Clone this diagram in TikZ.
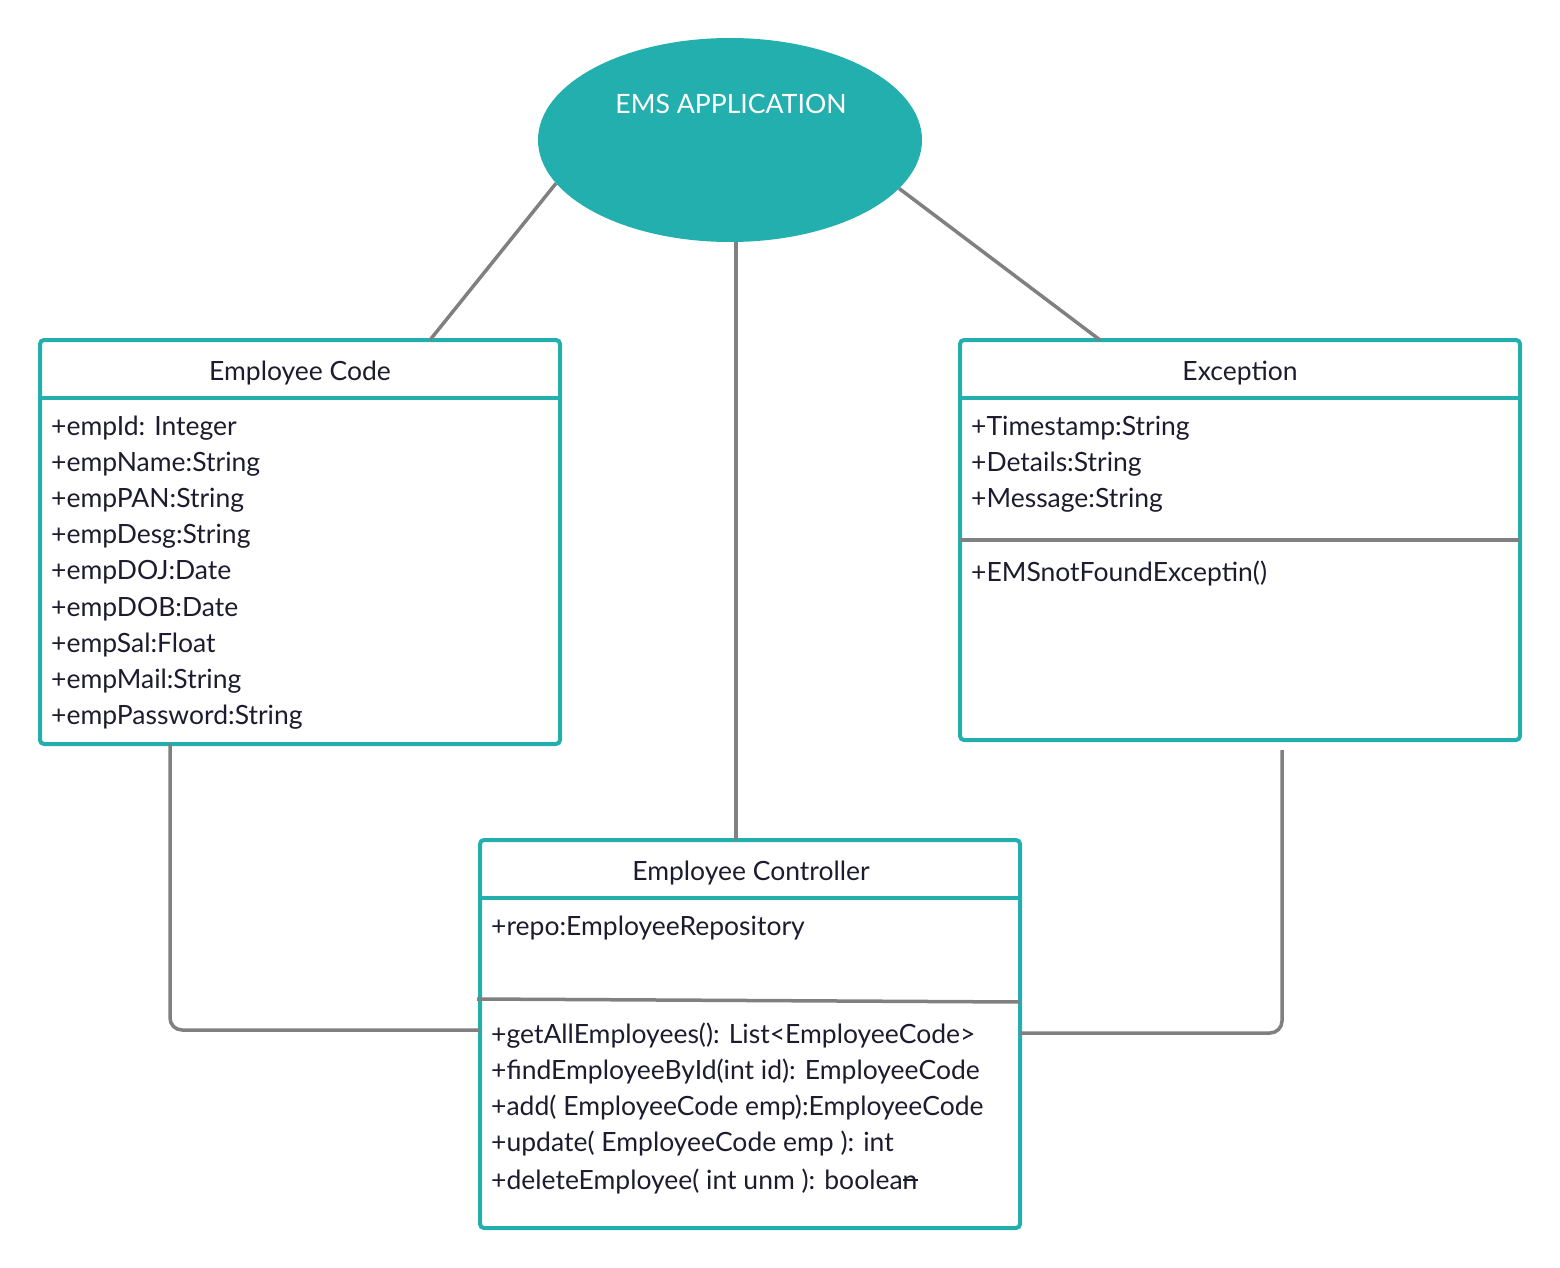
\documentclass[tikz,border=0pt]{standalone}
\usepackage{fontspec}
\setmainfont{Lato}
\usetikzlibrary{shapes.geometric}
\definecolor{emsteal}{HTML}{23AFAE}
\definecolor{linkgray}{HTML}{808080}
\definecolor{ink}{HTML}{1C1C2E}
\tikzset{
  classbox/.style={draw=emsteal, line width=4pt, rounded corners=4pt, anchor=north west, inner sep=0pt, outer sep=0pt},
  headline/.style={draw=emsteal, line width=4pt},
  partline/.style={draw=linkgray, line width=3.5pt},
  conn/.style={draw=linkgray, line width=3.5pt, rounded corners=12pt},
  member/.style={anchor=base west, inner sep=0pt, text=ink, font=\fontsize{26.5}{30}\selectfont},
  title/.style={anchor=base, inner sep=0pt, text=ink, font=\fontsize{26.5}{30}\selectfont},
}
\begin{document}
\begin{tikzpicture}[x=1pt,y=-1pt]
\useasboundingbox (0,0) rectangle (1560,1268);
% application
\node[ellipse, fill=emsteal, minimum width=384pt, minimum height=204pt] (app) at (730,140) {};
\node[title, text=white, font=\fontsize{26.6}{30}\selectfont] (apptitle) at (731,114) {EMS APPLICATION};
% Employee Code
\node[classbox, minimum width=520pt, minimum height=404pt] (code) at (40,340) {};
\draw[headline] (40,398) -- (560,398);
\node[title] (codetitle) at (300,380) {Employee Code};
\foreach \t [count=\i] in {+empId: Integer, +empName:String, +empPAN:String, +empDesg:String,
  +empDOJ:Date, +empDOB:Date, +empSal:Float, +empMail:String, +empPassword:String}
  \node[member] (code\i) at (51,{435+36.2*(\i-1)}) {\t};
% Exception
\node[classbox, minimum width=560pt, minimum height=400pt] (exc) at (960,340) {};
\draw[headline] (960,398) -- (1520,398);
\draw[partline] (960,540) -- (1520,540);
\node[title] (exctitle) at (1240,380) {Exception};
\foreach \t [count=\i] in {+Timestamp:String, +Details:String, +Message:String}
  \node[member] (exc\i) at (971,{435+36*(\i-1)}) {\t};
\node[member] (excop) at (971,581) {+EMSnotFoundExceptin()};
% Employee Controller
\node[classbox, minimum width=540pt, minimum height=388pt] (ctl) at (480,840) {};
\draw[headline] (480,898) -- (1020,898);
\draw[partline] (477,999) -- (1020,1002);
\node[title] (ctltitle) at (751,880) {Employee Controller};
\node[member] (ctlattr) at (491,935) {+repo:EmployeeRepository};
\foreach \t [count=\i] in {+getAllEmployees(): List<EmployeeCode>, +findEmployeeById(int id): EmployeeCode,
  +add( EmployeeCode emp):EmployeeCode, +update( EmployeeCode emp ): int}
  \node[member] (ctl\i) at (491,{1043+36*(\i-1)}) {\t};
\node[member] (ctl5) at (491,1189) {+deleteEmployee( int unm ): boolean};
\draw[ink, line width=1.5pt] ([xshift=-15pt,yshift=9pt]ctl5.base east) -- ([yshift=9pt]ctl5.base east);
% connectors
\draw[conn] (app.194) -- ([xshift=390pt]code.north west);
\draw[conn] ([xshift=6pt]app.south) -- ([xshift=6pt]app.south |- ctl.north);
\draw[conn] (app.-16) -- ([xshift=140pt]exc.north west);
\draw[conn] ([xshift=130pt]code.south west) |- ([yshift=4pt]ctl.west);
\draw[conn] ([xshift=322pt,yshift=-10pt]exc.south west) |- ([yshift=1pt]ctl.east);
\end{tikzpicture}
\end{document}
